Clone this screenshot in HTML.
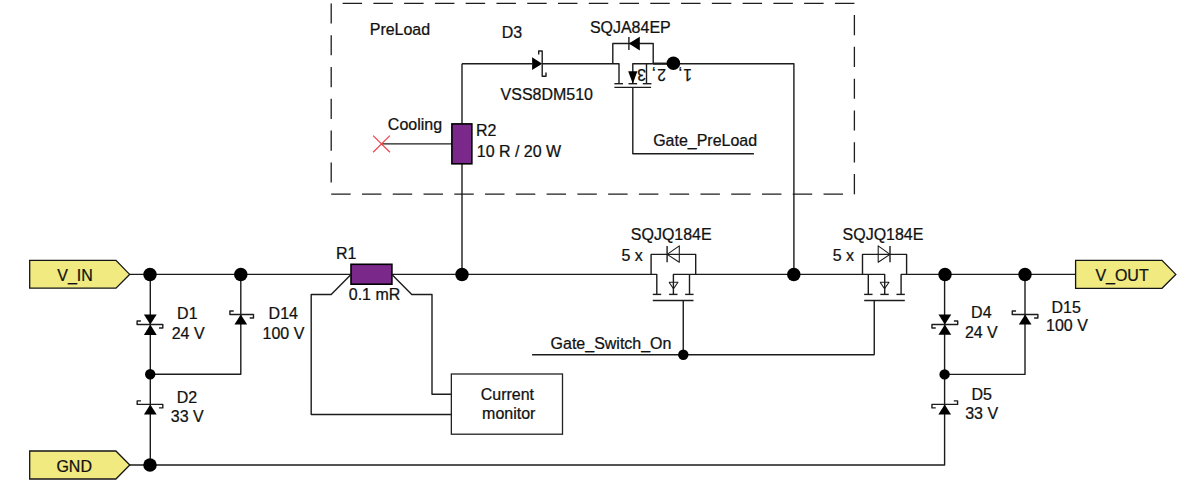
<!DOCTYPE html>
<html><head><meta charset="utf-8"><style>
html,body{margin:0;padding:0;background:#fff;}
body{width:1200px;height:496px;overflow:hidden;}
svg{display:block;}
text{font-family:"Liberation Sans",sans-serif;}
</style></head><body>
<svg width="1200" height="496" viewBox="0 0 1200 496">
<rect width="1200" height="496" fill="#fff"/>
<path d="M331.2,194.2 L854.4,194.2" stroke="#1e1e1e" stroke-width="1.3" fill="none" stroke-dasharray="19.48 11.29"/>
<path d="M854.4,194.2 L854.4,3.4" stroke="#1e1e1e" stroke-width="1.3" fill="none" stroke-dasharray="20.13 11.67"/>
<path d="M854.4,3.4 L331.2,3.4" stroke="#1e1e1e" stroke-width="1.3" fill="none" stroke-dasharray="19.48 11.29"/>
<path d="M331.2,3.4 L331.2,194.2" stroke="#1e1e1e" stroke-width="1.3" fill="none" stroke-dasharray="20.13 11.67"/>
<path d="M129.40,274.40 L351.00,274.40" fill="none" stroke="#1c1c1c" stroke-width="1.4" stroke-linecap="butt" stroke-linejoin="round" />
<path d="M391.90,274.40 L656.80,274.40 L656.80,294.40" fill="none" stroke="#1c1c1c" stroke-width="1.4" stroke-linecap="butt" stroke-linejoin="round" />
<path d="M651.10,274.40 L651.10,254.40 L695.70,254.40 L695.70,274.40" fill="none" stroke="#1c1c1c" stroke-width="1.4" stroke-linecap="butt" stroke-linejoin="round" />
<path d="M673.40,294.40 L673.40,274.40 L884.70,274.40 L884.70,294.40" fill="none" stroke="#1c1c1c" stroke-width="1.4" stroke-linecap="butt" stroke-linejoin="round" />
<path d="M689.50,274.40 L689.50,294.40" fill="none" stroke="#1c1c1c" stroke-width="1.4" stroke-linecap="butt" stroke-linejoin="round" />
<path d="M862.50,274.40 L862.50,254.40 L906.60,254.40 L906.60,274.40" fill="none" stroke="#1c1c1c" stroke-width="1.4" stroke-linecap="butt" stroke-linejoin="round" />
<path d="M868.30,274.40 L868.30,294.40" fill="none" stroke="#1c1c1c" stroke-width="1.4" stroke-linecap="butt" stroke-linejoin="round" />
<path d="M1075.00,274.40 L901.10,274.40 L901.10,294.40" fill="none" stroke="#1c1c1c" stroke-width="1.4" stroke-linecap="butt" stroke-linejoin="round" />
<path d="M652.80,294.40 L661.20,294.40" fill="none" stroke="#1c1c1c" stroke-width="1.4" stroke-linecap="butt" stroke-linejoin="round" />
<path d="M669.10,294.40 L677.50,294.40" fill="none" stroke="#1c1c1c" stroke-width="1.4" stroke-linecap="butt" stroke-linejoin="round" />
<path d="M685.15,294.40 L693.55,294.40" fill="none" stroke="#1c1c1c" stroke-width="1.4" stroke-linecap="butt" stroke-linejoin="round" />
<path d="M864.15,294.40 L872.55,294.40" fill="none" stroke="#1c1c1c" stroke-width="1.4" stroke-linecap="butt" stroke-linejoin="round" />
<path d="M880.35,294.40 L888.75,294.40" fill="none" stroke="#1c1c1c" stroke-width="1.4" stroke-linecap="butt" stroke-linejoin="round" />
<path d="M896.45,294.40 L904.85,294.40" fill="none" stroke="#1c1c1c" stroke-width="1.4" stroke-linecap="butt" stroke-linejoin="round" />
<path d="M652.80,300.50 L693.50,300.50" fill="none" stroke="#1c1c1c" stroke-width="1.4" stroke-linecap="butt" stroke-linejoin="round" />
<path d="M864.20,300.50 L904.80,300.50" fill="none" stroke="#1c1c1c" stroke-width="1.4" stroke-linecap="butt" stroke-linejoin="round" />
<path d="M683.25,300.50 L683.25,354.75" fill="none" stroke="#1c1c1c" stroke-width="1.4" stroke-linecap="butt" stroke-linejoin="round" />
<path d="M874.25,300.50 L874.25,354.75" fill="none" stroke="#1c1c1c" stroke-width="1.4" stroke-linecap="butt" stroke-linejoin="round" />
<path d="M532.10,354.75 L874.40,354.75" fill="none" stroke="#1c1c1c" stroke-width="1.4" stroke-linecap="butt" stroke-linejoin="round" />
<path d="M669.05,282.20 L677.95,282.20 L673.50,288.75 L669.05,282.20" fill="none" stroke="#1c1c1c" stroke-width="1.1" stroke-linecap="butt" stroke-linejoin="round" />
<path d="M880.10,282.20 L889.00,282.20 L884.55,288.75 L880.10,282.20" fill="none" stroke="#1c1c1c" stroke-width="1.1" stroke-linecap="butt" stroke-linejoin="round" />
<path d="M667.10,245.90 L667.10,262.30" fill="none" stroke="#1c1c1c" stroke-width="1.4" stroke-linecap="butt" stroke-linejoin="round" />
<path d="M667.10,254.40 L679.30,245.90 L679.30,262.30 L667.10,254.40" fill="none" stroke="#1c1c1c" stroke-width="1.1" stroke-linecap="butt" stroke-linejoin="round" />
<path d="M890.00,245.90 L890.00,262.30" fill="none" stroke="#1c1c1c" stroke-width="1.4" stroke-linecap="butt" stroke-linejoin="round" />
<path d="M890.00,254.40 L878.20,245.90 L878.20,262.30 L890.00,254.40" fill="none" stroke="#1c1c1c" stroke-width="1.1" stroke-linecap="butt" stroke-linejoin="round" />
<path d="M462.00,63.80 L532.10,63.80" fill="none" stroke="#1c1c1c" stroke-width="1.4" stroke-linecap="butt" stroke-linejoin="round" />
<path d="M542.20,63.80 L619.00,63.80 L619.00,83.70" fill="none" stroke="#1c1c1c" stroke-width="1.4" stroke-linecap="butt" stroke-linejoin="round" />
<path d="M612.80,63.80 L612.80,43.50 L653.20,43.50 L653.20,63.80" fill="none" stroke="#1c1c1c" stroke-width="1.4" stroke-linecap="butt" stroke-linejoin="round" />
<path d="M653.20,63.60 L672.00,63.60" fill="none" stroke="#000" stroke-width="2.0" stroke-linecap="butt" stroke-linejoin="round" />
<path d="M632.80,83.70 L632.80,63.80 L793.90,63.80 L793.90,274.40" fill="none" stroke="#1c1c1c" stroke-width="1.4" stroke-linecap="butt" stroke-linejoin="round" />
<path d="M646.50,63.80 L646.50,83.70" fill="none" stroke="#1c1c1c" stroke-width="1.4" stroke-linecap="butt" stroke-linejoin="round" />
<path d="M614.40,83.70 L623.00,83.70" fill="none" stroke="#1c1c1c" stroke-width="1.4" stroke-linecap="butt" stroke-linejoin="round" />
<path d="M628.50,83.70 L637.10,83.70" fill="none" stroke="#1c1c1c" stroke-width="1.4" stroke-linecap="butt" stroke-linejoin="round" />
<path d="M642.80,83.70 L651.40,83.70" fill="none" stroke="#1c1c1c" stroke-width="1.4" stroke-linecap="butt" stroke-linejoin="round" />
<path d="M614.40,87.40 L651.10,87.40" fill="none" stroke="#1c1c1c" stroke-width="1.4" stroke-linecap="butt" stroke-linejoin="round" />
<path d="M632.80,87.40 L632.80,153.70 L753.90,153.70" fill="none" stroke="#1c1c1c" stroke-width="1.4" stroke-linecap="butt" stroke-linejoin="round" />
<path d="M628.20,71.30 L637.40,71.30 L632.80,83.70Z" fill="#000" stroke="none" stroke-width="0"/>
<path d="M628.90,37.00 L628.90,50.00" fill="none" stroke="#1c1c1c" stroke-width="1.4" stroke-linecap="butt" stroke-linejoin="round" />
<path d="M628.80,43.50 L639.80,36.70 L639.80,50.60Z" fill="#000" stroke="none" stroke-width="0"/>
<circle cx="673.4" cy="63.3" r="6.8" fill="#000"/>
<path d="M532.10,57.20 L532.10,70.00 L542.20,63.80Z" fill="#000" stroke="none" stroke-width="0"/>
<path d="M538.70,54.60 L538.70,51.00 L542.20,51.00 L542.20,76.20 L546.00,76.20 L546.00,72.60" fill="none" stroke="#1c1c1c" stroke-width="1.4" stroke-linecap="butt" stroke-linejoin="round" />
<path d="M462.00,163.80 L462.00,274.40" fill="none" stroke="#1c1c1c" stroke-width="1.4" stroke-linecap="butt" stroke-linejoin="round" />
<path d="M462.00,63.80 L462.00,123.90" fill="none" stroke="#1c1c1c" stroke-width="1.4" stroke-linecap="butt" stroke-linejoin="round" />
<path d="M381.50,143.90 L451.90,143.90" fill="none" stroke="#1c1c1c" stroke-width="1.4" stroke-linecap="butt" stroke-linejoin="round" />
<path d="M373.1,135.6 L389.9,152.2 M373.1,152.2 L389.9,135.6" stroke="#f0444c" stroke-width="1.2" fill="none"/>
<rect x="451.9" y="123.9" width="19.95" height="39.9" fill="#7a288a" stroke="#000" stroke-width="1.6"/>
<rect x="351" y="264.3" width="40.9" height="19.9" fill="#7a288a" stroke="#000" stroke-width="1.6"/>
<path d="M351.00,274.40 L331.20,294.50 L311.20,294.50 L311.20,414.50 L451.35,414.50" fill="none" stroke="#1c1c1c" stroke-width="1.4" stroke-linecap="butt" stroke-linejoin="round" />
<path d="M391.90,274.40 L411.75,294.50 L432.00,294.50 L432.00,394.30 L451.35,394.30" fill="none" stroke="#1c1c1c" stroke-width="1.4" stroke-linecap="butt" stroke-linejoin="round" />
<rect x="451.35" y="374" width="111.15" height="60.2" fill="#fff" stroke="#222" stroke-width="1.3"/>
<path d="M129.90,465.00 L944.60,465.00 L944.60,274.40" fill="none" stroke="#1c1c1c" stroke-width="1.4" stroke-linecap="butt" stroke-linejoin="round" />
<path d="M150.30,274.40 L150.30,465.00" fill="none" stroke="#1c1c1c" stroke-width="1.4" stroke-linecap="butt" stroke-linejoin="round" />
<path d="M240.80,274.40 L240.80,374.30 L150.30,374.30" fill="none" stroke="#1c1c1c" stroke-width="1.4" stroke-linecap="butt" stroke-linejoin="round" />
<path d="M1025.00,274.40 L1025.00,374.40 L944.60,374.40" fill="none" stroke="#1c1c1c" stroke-width="1.4" stroke-linecap="butt" stroke-linejoin="round" />
<path d="M143.90,314.40 L156.70,314.40 L150.30,324.50Z" fill="#000" stroke="none" stroke-width="0"/>
<path d="M143.90,335.10 L156.70,335.10 L150.30,324.50Z" fill="#000" stroke="none" stroke-width="0"/>
<path d="M140.90,321.00 L137.10,321.00 L137.10,324.50 L162.80,324.50 L162.80,328.00 L159.00,328.00" fill="none" stroke="#1c1c1c" stroke-width="1.4" stroke-linecap="butt" stroke-linejoin="round" />
<path d="M234.45,324.50 L247.15,324.50 L240.80,314.50Z" fill="#000" stroke="none" stroke-width="0"/>
<path d="M233.70,311.00 L229.90,311.00 L229.90,314.50 L253.50,314.50 L253.50,318.00 L249.70,318.00" fill="none" stroke="#1c1c1c" stroke-width="1.4" stroke-linecap="butt" stroke-linejoin="round" />
<path d="M143.95,414.50 L156.65,414.50 L150.30,404.40Z" fill="#000" stroke="none" stroke-width="0"/>
<path d="M141.00,400.90 L137.20,400.90 L137.20,404.40 L162.80,404.40 L162.80,407.90 L159.00,407.90" fill="none" stroke="#1c1c1c" stroke-width="1.4" stroke-linecap="butt" stroke-linejoin="round" />
<path d="M938.45,314.40 L951.25,314.40 L944.85,324.50Z" fill="#000" stroke="none" stroke-width="0"/>
<path d="M938.45,334.80 L951.25,334.80 L944.85,324.50Z" fill="#000" stroke="none" stroke-width="0"/>
<path d="M935.75,328.00 L931.95,328.00 L931.95,324.50 L957.70,324.50 L957.70,321.00 L953.90,321.00" fill="none" stroke="#1c1c1c" stroke-width="1.4" stroke-linecap="butt" stroke-linejoin="round" />
<path d="M1018.80,324.50 L1031.50,324.50 L1025.15,314.50Z" fill="#000" stroke="none" stroke-width="0"/>
<path d="M1016.05,311.00 L1012.25,311.00 L1012.25,314.50 L1037.90,314.50 L1037.90,318.00 L1034.10,318.00" fill="none" stroke="#1c1c1c" stroke-width="1.4" stroke-linecap="butt" stroke-linejoin="round" />
<path d="M938.35,414.50 L951.05,414.50 L944.70,404.40Z" fill="#000" stroke="none" stroke-width="0"/>
<path d="M935.75,407.90 L931.95,407.90 L931.95,404.40 L957.60,404.40 L957.60,400.90 L953.80,400.90" fill="none" stroke="#1c1c1c" stroke-width="1.4" stroke-linecap="butt" stroke-linejoin="round" />
<path d="M29.70,260.30 L116.00,260.30 L129.60,274.40 L116.00,288.20 L29.70,288.20Z" fill="#f1ea81" stroke="#151515" stroke-width="1.3"/>
<path d="M29.70,451.00 L115.90,451.00 L129.80,465.00 L115.90,479.00 L29.70,479.00Z" fill="#f1ea81" stroke="#151515" stroke-width="1.3"/>
<path d="M1075.60,260.40 L1162.00,260.40 L1175.80,274.40 L1162.00,288.30 L1075.60,288.30Z" fill="#f1ea81" stroke="#151515" stroke-width="1.3"/>
<circle cx="150" cy="274.5" r="6.75" fill="#000"/>
<circle cx="240.8" cy="274.5" r="6.75" fill="#000"/>
<circle cx="462" cy="274.5" r="6.75" fill="#000"/>
<circle cx="793.8" cy="274.5" r="6.75" fill="#000"/>
<circle cx="945" cy="274.5" r="6.75" fill="#000"/>
<circle cx="1025" cy="274.5" r="6.75" fill="#000"/>
<circle cx="150" cy="465" r="6.75" fill="#000"/>
<circle cx="150.2" cy="374.3" r="5.2" fill="#000"/>
<circle cx="944.6" cy="374.4" r="5.2" fill="#000"/>
<circle cx="683.3" cy="354.75" r="5.2" fill="#000"/>
<g font-family="Liberation Sans" font-size="15.75" fill="#111" stroke="#111" stroke-width="0.25">
<text transform="translate(369.74,35.10) scale(1.015,1)" x="0" y="0">PreLoad</text>
<text transform="translate(501.68,38.00) scale(1.015,1)" x="0" y="0">D3</text>
<text transform="translate(589.88,33.30) scale(1.015,1)" x="0" y="0">SQJA84EP</text>
<text transform="translate(500.58,100.00) scale(1.015,1)" x="0" y="0">VSS8DM510</text>
<text transform="translate(387.84,130.00) scale(1.015,1)" x="0" y="0">Cooling</text>
<text transform="translate(475.96,135.75) scale(1.015,1)" x="0" y="0">R2</text>
<text transform="translate(476.79,156.60) scale(1.015,1)" x="0" y="0">10 R / 20 W</text>
<text transform="translate(653.15,145.60) scale(1.015,1)" x="0" y="0">Gate_PreLoad</text>
<text transform="translate(335.91,258.60) scale(1.015,1)" x="0" y="0">R1</text>
<text transform="translate(348.78,299.70) scale(1.015,1)" x="0" y="0">0.1 mR</text>
<text transform="translate(57.31,280.60) scale(1.015,1)" x="0" y="0">V_IN</text>
<text transform="translate(177.11,319.40) scale(1.015,1)" x="0" y="0">D1</text>
<text transform="translate(171.68,338.80) scale(1.015,1)" x="0" y="0">24 V</text>
<text transform="translate(268.61,319.20) scale(1.015,1)" x="0" y="0">D14</text>
<text transform="translate(262.55,338.85) scale(1.015,1)" x="0" y="0">100 V</text>
<text transform="translate(176.81,402.60) scale(1.015,1)" x="0" y="0">D2</text>
<text transform="translate(170.84,421.90) scale(1.015,1)" x="0" y="0">33 V</text>
<text transform="translate(56.43,471.65) scale(1.015,1)" x="0" y="0">GND</text>
<text transform="translate(480.78,400.30) scale(1.015,1)" x="0" y="0">Current</text>
<text transform="translate(482.07,419.10) scale(1.015,1)" x="0" y="0">monitor</text>
<text transform="translate(630.85,240.10) scale(1.015,1)" x="0" y="0">SQJQ184E</text>
<text transform="translate(621.50,260.90) scale(1.015,1)" x="0" y="0">5 x</text>
<text transform="translate(550.62,348.80) scale(1.015,1)" x="0" y="0">Gate_Switch_On</text>
<text transform="translate(842.60,240.10) scale(1.015,1)" x="0" y="0">SQJQ184E</text>
<text transform="translate(832.80,260.90) scale(1.015,1)" x="0" y="0">5 x</text>
<text transform="translate(1095.39,281.25) scale(1.015,1)" x="0" y="0">V_OUT</text>
<text transform="translate(971.10,318.30) scale(1.015,1)" x="0" y="0">D4</text>
<text transform="translate(964.88,337.50) scale(1.015,1)" x="0" y="0">24 V</text>
<text transform="translate(1051.49,312.50) scale(1.015,1)" x="0" y="0">D15</text>
<text transform="translate(1046.03,331.25) scale(1.015,1)" x="0" y="0">100 V</text>
<text transform="translate(971.38,399.50) scale(1.015,1)" x="0" y="0">D5</text>
<text transform="translate(965.19,419.00) scale(1.015,1)" x="0" y="0">33 V</text>
<text transform="translate(646.00,69.20) rotate(180)" x="0" y="0">3</text>
<text transform="translate(656.00,69.20) rotate(180)" x="0" y="0">,</text>
<text transform="translate(666.00,69.20) rotate(180)" x="0" y="0">2</text>
<text transform="translate(682.50,69.20) rotate(180)" x="0" y="0">,</text>
<text transform="translate(692.00,69.20) rotate(180)" x="0" y="0">1</text>
</g>
</svg>
</body></html>
